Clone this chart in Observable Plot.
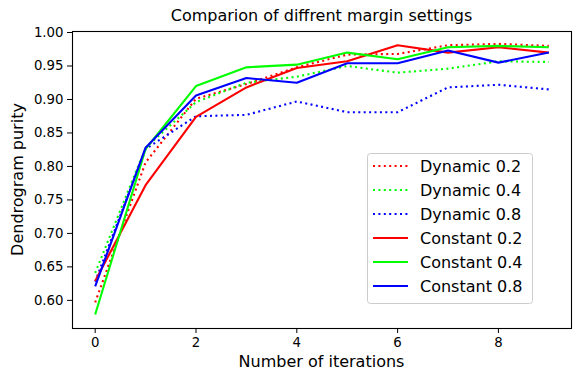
<!DOCTYPE html>
<html>
<head>
<meta charset="utf-8">
<script src="https://cdn.jsdelivr.net/npm/d3@7"></script>
<script src="https://cdn.jsdelivr.net/npm/@observablehq/plot@0.6"></script>
<style>
  html, body { margin: 0; padding: 0; background: #fff; }
  #chart svg { font-family: "DejaVu Sans", sans-serif; display: block; }
</style>
</head>
<body>
<div id="chart"></div>
<script>
const iterations = [0, 1, 2, 3, 4, 5, 6, 7, 8, 9];
const seriesNames = ["Dynamic 0.2", "Dynamic 0.4", "Dynamic 0.8", "Constant 0.2", "Constant 0.4", "Constant 0.8"];
const dynamic02 = [0.597, 0.806, 0.901, 0.923, 0.948, 0.967, 0.968, 0.981, 0.983, 0.980];
const dynamic04 = [0.641, 0.828, 0.896, 0.925, 0.934, 0.950, 0.940, 0.946, 0.957, 0.956];
const dynamic08 = [0.628, 0.826, 0.875, 0.877, 0.897, 0.881, 0.881, 0.918, 0.922, 0.915];
const constant02 = [0.629, 0.772, 0.874, 0.918, 0.947, 0.957, 0.981, 0.970, 0.978, 0.970];
const constant04 = [0.579, 0.826, 0.920, 0.948, 0.952, 0.970, 0.960, 0.978, 0.980, 0.978];
const constant08 = [0.621, 0.828, 0.906, 0.932, 0.925, 0.954, 0.954, 0.973, 0.955, 0.970];
const colors = ["#ff0000", "#00ff00", "#0000ff", "#ff0000", "#00ff00", "#0000ff"];
const dotted = [true, true, true, false, false, false];
const yTicks = [0.60, 0.65, 0.70, 0.75, 0.80, 0.85, 0.90, 0.95, 1.00];
const xTicks = [0, 2, 4, 6, 8];
const titleText = "Comparion of diffrent margin settings";
const xLabel = "Number of iterations";
const yLabel = "Dendrogram purity";

const allValues = [dynamic02, dynamic04, dynamic08, constant02, constant04, constant08];
const table = allValues.flatMap((vals, s) =>
  vals.map((v, i) => ({ series: seriesNames[s], x: iterations[i], y: v })));

const W = 582, H = 382;
const mL = 72, mR = 11, mT = 31, mB = 54;

const lineMarks = seriesNames.map((name, s) =>
  Plot.line(table.filter(d => d.series === name), {
    x: "x", y: "y",
    stroke: colors[s],
    strokeWidth: 2.1,
    strokeDasharray: dotted[s] ? "2,3.4" : null,
    strokeLinecap: "butt",
    strokeLinejoin: "round"
  }));

const plot = Plot.plot({
  width: W, height: H,
  marginLeft: mL, marginRight: mR, marginTop: mT, marginBottom: mB,
  style: { fontFamily: "DejaVu Sans, sans-serif", fontSize: "13.3px", color: "#000", background: "#fff" },
  x: { domain: [-0.45, 9.45] },
  y: { domain: [0.558, 1.0015] },
  marks: [
    ...lineMarks,
    Plot.frame({ stroke: "#000", strokeWidth: 1.1 }),
    Plot.axisX({ ticks: xTicks, tickSize: 5, tickPadding: 4, label: null, fontSize: 13.3, tickFormat: d3.format("d") }),
    Plot.axisY({ ticks: yTicks, tickSize: 5, tickPadding: 4, label: null, fontSize: 13.3, tickFormat: d3.format(".2f") })
  ]
});
document.getElementById("chart").appendChild(plot);

const svg = d3.select(plot);
const ff = "DejaVu Sans, sans-serif";
svg.append("text").attr("x", (mL + W - mR) / 2).attr("y", 21)
  .attr("text-anchor", "middle").attr("font-family", ff).attr("font-size", 16).attr("fill", "#000").text(titleText);
svg.append("text").attr("x", (mL + W - mR) / 2).attr("y", 367)
  .attr("text-anchor", "middle").attr("font-family", ff).attr("font-size", 16).attr("fill", "#000").text(xLabel);
svg.append("text").attr("transform", `translate(23,${(mT + H - mB) / 2}) rotate(-90)`)
  .attr("text-anchor", "middle").attr("font-family", ff).attr("font-size", 16).attr("fill", "#000").text(yLabel);

// legend
const lg = svg.append("g");
lg.append("rect").attr("x", 367.5).attr("y", 153.5).attr("width", 165).attr("height", 150)
  .attr("rx", 3).attr("fill", "#fff").attr("fill-opacity", 0.8).attr("stroke", "#cccccc").attr("stroke-width", 1);
seriesNames.forEach((name, s) => {
  const cy = 166 + s * 24;
  lg.append("line").attr("x1", 373).attr("x2", 408).attr("y1", cy).attr("y2", cy)
    .attr("stroke", colors[s]).attr("stroke-width", 2.1)
    .attr("stroke-dasharray", dotted[s] ? "2,3.4" : null);
  lg.append("text").attr("x", 420).attr("y", cy).attr("dy", "0.36em").attr("text-anchor", "start")
    .attr("font-family", ff).attr("font-size", 16).attr("fill", "#000").text(name);
});
</script>
</body>
</html>
